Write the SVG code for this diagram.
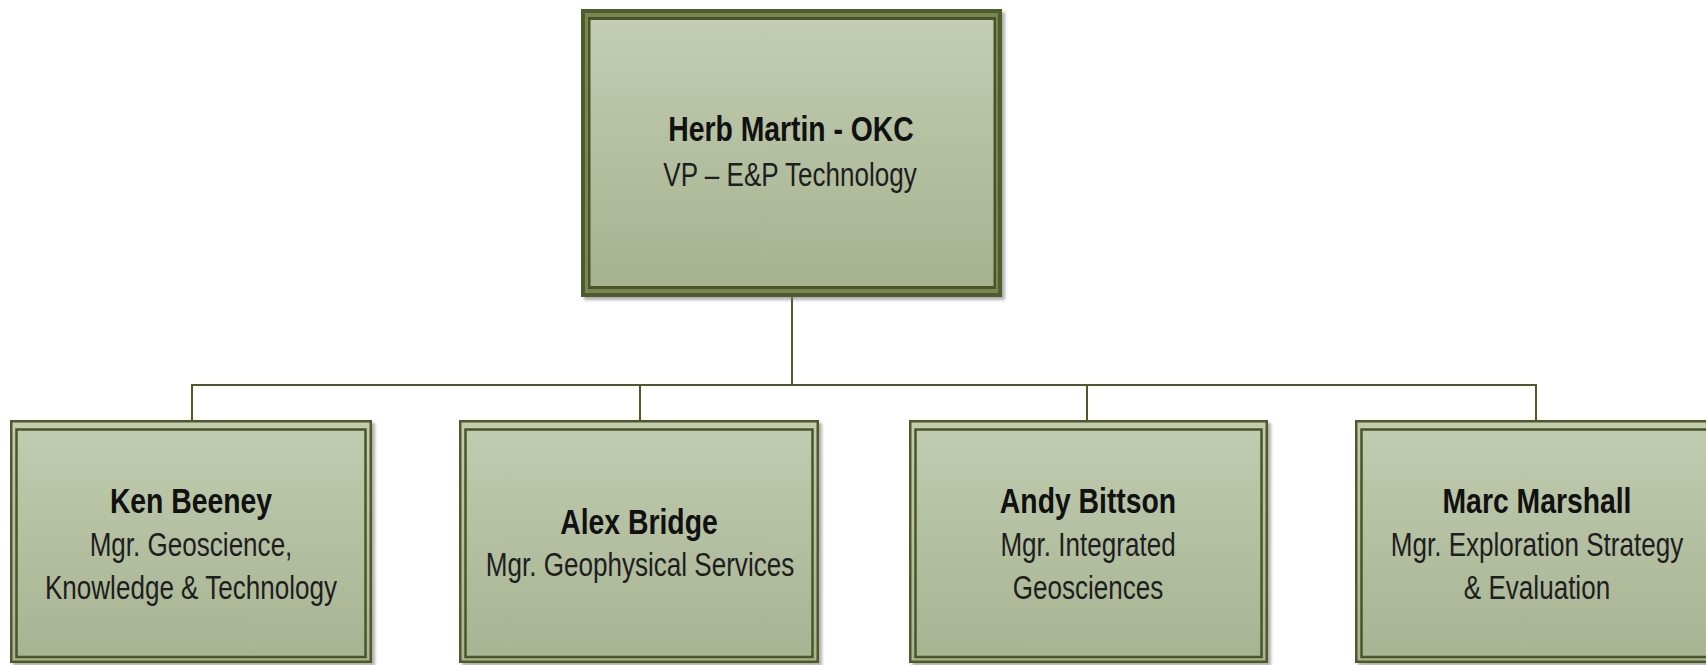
<svg xmlns="http://www.w3.org/2000/svg" width="1706" height="665" viewBox="0 0 1706 665">
  <defs>
    <linearGradient id="fillTop" x1="0" y1="0" x2="0" y2="1">
      <stop offset="0" stop-color="#c2cdb3"/>
      <stop offset="1" stop-color="#a6b28f"/>
    </linearGradient>
    <linearGradient id="fillBox" x1="0" y1="0" x2="0" y2="1">
      <stop offset="0" stop-color="#c1ccb1"/>
      <stop offset="1" stop-color="#a7b391"/>
    </linearGradient>
    <filter id="shadow" x="-5%" y="-5%" width="115%" height="115%">
      <feDropShadow dx="3" dy="3" stdDeviation="1.5" flood-color="#7a7a7a" flood-opacity="0.6"/>
    </filter>
    <style>
      .conn { fill: none; stroke: #4e5a2a; stroke-width: 2; }
      .outer { fill: none; stroke: #4f5a2b; stroke-width: 2.5; }
      .inner { fill: none; stroke: #4b5527; stroke-width: 2.5; }
      .box { fill: url(#fillBox); }
      .name { font-family: "Liberation Sans", Arial, sans-serif; font-weight: bold; font-size: 35px; fill: #111111; text-anchor: middle; }
      .title { font-family: "Liberation Sans", Arial, sans-serif; font-size: 33px; fill: #1e1e1e; text-anchor: middle; }
    </style>
  </defs>

  <g id="connectors">
    <line class="conn" x1="792" y1="297" x2="792" y2="385"/>
    <line class="conn" x1="192" y1="385" x2="1536" y2="385"/>
    <line class="conn" x1="192" y1="384" x2="192" y2="421"/>
    <line class="conn" x1="640" y1="384" x2="640" y2="421"/>
    <line class="conn" x1="1087" y1="384" x2="1087" y2="421"/>
    <line class="conn" x1="1536" y1="384" x2="1536" y2="421"/>
  </g>

  <g id="herb-martin">
    <rect x="581" y="9" width="421" height="288" fill="#505b2d" filter="url(#shadow)"/>
    <rect x="585" y="13" width="413" height="280" fill="#7a8554"/>
    <rect x="588" y="17" width="408" height="272" fill="#4a5426"/>
    <rect x="590.5" y="20" width="403" height="266" fill="url(#fillTop)"/>
    <g transform="translate(791,0) scale(0.81,1)"><text class="name" x="0" y="141">Herb Martin - OKC</text></g>
    <g transform="translate(790,0) scale(0.79,1)"><text class="title" x="0" y="186">VP – E&amp;P Technology</text></g>
  </g>

  <g id="ken-beeney">
    <rect class="box" x="10" y="420" width="362" height="243" filter="url(#shadow)"/>
    <rect class="outer" x="11.25" y="421.25" width="359.5" height="240.5"/>
    <rect class="inner" x="16.5" y="429.5" width="349" height="227.5"/>
    <g transform="translate(191,0) scale(0.81,1)"><text class="name" x="0" y="513">Ken Beeney</text></g>
    <g transform="translate(191,0) scale(0.79,1)">
      <text class="title" x="0" y="556">Mgr. Geoscience,</text>
      <text class="title" x="0" y="599">Knowledge &amp; Technology</text>
    </g>
  </g>

  <g id="alex-bridge">
    <rect class="box" x="459" y="420" width="360" height="243" filter="url(#shadow)"/>
    <rect class="outer" x="460.25" y="421.25" width="357.5" height="240.5"/>
    <rect class="inner" x="465.5" y="429.5" width="347" height="227.5"/>
    <g transform="translate(639,0) scale(0.81,1)"><text class="name" x="0" y="534">Alex Bridge</text></g>
    <g transform="translate(640,0) scale(0.79,1)"><text class="title" x="0" y="576">Mgr. Geophysical Services</text></g>
  </g>

  <g id="andy-bittson">
    <rect class="box" x="909" y="420" width="359" height="243" filter="url(#shadow)"/>
    <rect class="outer" x="910.25" y="421.25" width="356.5" height="240.5"/>
    <rect class="inner" x="915.5" y="429.5" width="346" height="227.5"/>
    <g transform="translate(1088,0) scale(0.81,1)"><text class="name" x="0" y="513">Andy Bittson</text></g>
    <g transform="translate(1088,0) scale(0.79,1)">
      <text class="title" x="0" y="556">Mgr. Integrated</text>
      <text class="title" x="0" y="599">Geosciences</text>
    </g>
  </g>

  <g id="marc-marshall">
    <rect class="box" x="1355" y="420" width="364" height="243" filter="url(#shadow)"/>
    <rect class="outer" x="1356.25" y="421.25" width="361.5" height="240.5"/>
    <rect class="inner" x="1361.5" y="429.5" width="351" height="227.5"/>
    <g transform="translate(1537,0) scale(0.81,1)"><text class="name" x="0" y="513">Marc Marshall</text></g>
    <g transform="translate(1537,0) scale(0.79,1)">
      <text class="title" x="0" y="556">Mgr. Exploration Strategy</text>
      <text class="title" x="0" y="599">&amp; Evaluation</text>
    </g>
  </g>
</svg>
